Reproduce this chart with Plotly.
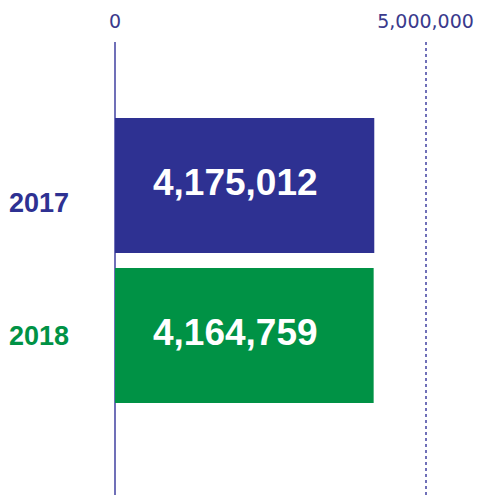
import plotly.graph_objects as go

categories = ["2017", "2018"]
values = [4175012, 4164759]
bar_colors = ["#2e3192", "#009245"]
tick_vals = [0, 5000000]
tick_text = ["0", "5,000,000"]
label_shift = [-17, 0]

fig = go.Figure()
fig.add_trace(go.Bar(
    x=values, y=categories, orientation="h",
    marker=dict(color=bar_colors, line=dict(width=0)),
    width=0.9, hoverinfo="skip",
))

annotations = []
for i, (cat, v, c, s) in enumerate(zip(categories, values, bar_colors, label_shift)):
    annotations.append(dict(
        x=0, y=i, xref="x", yref="y", text=f"<b>{v:,}</b>", showarrow=False,
        xanchor="left", xshift=36, yshift=3,
        font=dict(family="Liberation Sans, Arial", size=37, color="white"),
    ))
    annotations.append(dict(
        x=0, y=i, xref="paper", yref="y", text=f"<b>{cat}</b>", showarrow=False,
        xanchor="right", xshift=-44, yshift=s,
        font=dict(family="Liberation Sans, Arial", size=27, color=c),
    ))

fig.update_layout(
    width=478, height=495,
    margin=dict(l=115, r=30, t=42, b=0, autoexpand=False),
    paper_bgcolor="white", plot_bgcolor="white",
    showlegend=False,
    bargap=0.1,
    annotations=annotations,
    xaxis=dict(
        side="top", range=[0, 5362000], tickvals=tick_vals, ticktext=tick_text,
        showgrid=True, gridcolor="#7070b8", griddash="dot", gridwidth=1.5,
        zeroline=True, zerolinecolor="#7070b8", zerolinewidth=2,
        showline=False, ticks="", ticklabelstandoff=9,
        tickfont=dict(family="DejaVu Sans", size=19, color="#3a3a8c"),
        fixedrange=True, automargin=False,
    ),
    yaxis=dict(
        type="category",
        range=[2.063, -0.957], showticklabels=False, showgrid=False,
        zeroline=False, showline=False, ticks="", fixedrange=True, automargin=False,
    ),
)

fig.write_html("out.html", config={"displayModeBar": False},
               post_script="document.body.style.margin='0';")
